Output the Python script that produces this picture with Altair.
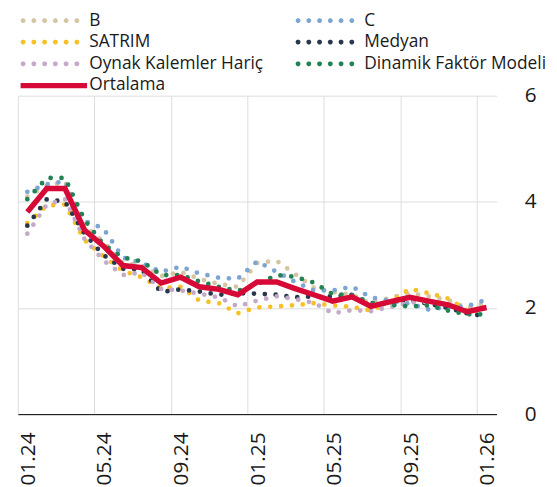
import math
import altair as alt
import pandas as pd

# ---------------- data ----------------
month_labels = ["2024-01", "2024-02", "2024-03", "2024-04", "2024-05", "2024-06",
                "2024-07", "2024-08", "2024-09", "2024-10", "2024-11", "2024-12",
                "2025-01", "2025-02", "2025-03", "2025-04", "2025-05", "2025-06",
                "2025-07", "2025-08", "2025-09", "2025-10", "2025-11", "2025-12",
                "2026-01"]

series_names = ["B", "C", "SATRIM", "Medyan", "Oynak Kalemler Hariç",
                "Dinamik Faktör Modeli", "Ortalama"]
series_colors = ["#d5c5a0", "#7da5d2", "#f6c128", "#28374b", "#c4aac8",
                 "#238255", "#d70a37"]

b_vals = [4.10, 4.30, 4.38, 3.55, 3.25, 2.85, 2.80, 2.60, 2.68, 2.55, 2.45, 2.40,
          2.85, 2.89, 2.65, 2.38, 2.30, 2.25, 2.08, 2.20, 2.28, 2.22, 2.15, 2.00, 2.10]
c_vals = [4.19, 4.33, 4.39, 3.64, 3.50, 2.95, 2.85, 2.68, 2.78, 2.65, 2.57, 2.55,
          2.88, 2.68, 2.50, 2.33, 2.33, 2.40, 2.20, 2.13, 2.08, 1.97, 2.02, 2.03, 2.16]
satrim_vals = [3.60, 3.93, 3.95, 3.28, 2.98, 2.70, 2.58, 2.37, 2.40, 2.14, 2.09, 1.90,
               2.01, 2.03, 2.05, 2.09, 2.05, 2.02, 1.95, 2.12, 2.36, 2.28, 2.18, 1.95, 1.95]
medyan_vals = [3.55, 4.05, 4.00, 3.40, 3.00, 2.74, 2.72, 2.30, 2.35, 2.31, 2.25, 2.28,
               2.27, 2.25, 2.20, 2.22, 2.22, 2.25, 2.05, 2.10, 2.15, 2.08, 2.00, 1.90, 1.84]
oynak_vals = [3.40, 3.95, 4.05, 3.30, 2.90, 2.62, 2.67, 2.36, 2.33, 2.27, 2.20, 2.03,
              2.14, 2.22, 2.17, 2.10, 1.90, 1.96, 1.94, 2.02, 2.10, 2.12, 2.05, 1.95, 2.00]
dinamik_vals = [4.05, 4.45, 4.45, 3.66, 3.20, 2.95, 2.88, 2.62, 2.62, 2.50, 2.40, 2.32,
                2.45, 2.62, 2.59, 2.48, 2.26, 2.24, 2.10, 2.06, 2.03, 2.05, 1.95, 1.88, 1.88]
ortalama_vals = [3.81, 4.25, 4.25, 3.47, 3.17, 2.80, 2.76, 2.47, 2.58, 2.40, 2.35, 2.25,
                 2.49, 2.49, 2.37, 2.25, 2.13, 2.21, 2.03, 2.12, 2.20, 2.13, 2.06, 1.93, 2.01]

y_ticks = [0, 2, 4, 6]
x_tick_months = [(2024, 1), (2024, 5), (2024, 9), (2025, 1), (2025, 5), (2025, 9), (2026, 1)]

all_vals = [b_vals, c_vals, satrim_vals, medyan_vals, oynak_vals, dinamik_vals, ortalama_vals]

rows = []
for name, vals in zip(series_names, all_vals):
    for m, v in zip(month_labels, vals):
        rows.append({"date": m + "-16", "series": name, "value": v})
df = pd.DataFrame(rows)

# ---------------- legend symbols (custom paths) ----------------
def dots_path(n=6, start=-5.6, length=9.9, r=0.42, sides=10):
    step = (length - 2 * r) / (n - 1)
    parts = []
    for i in range(n):
        cx = start + r + i * step
        pts = []
        for k in range(sides):
            a = 2 * math.pi * k / sides
            pts.append(f"{cx + r * math.cos(a):.3f},{r * math.sin(a):.3f}")
        parts.append("M" + "L".join(pts) + "Z")
    return "".join(parts)

bar_path = "M-5.6,-0.45L5.6,-0.45L5.6,0.45L-5.6,0.45Z"
shape_range = [dots_path()] * 6 + [bar_path]

FONT = "Open Sans"

color_scale = alt.Scale(domain=series_names, range=series_colors)
shape_scale = alt.Scale(domain=series_names, range=shape_range)

legend = alt.Legend(
    title=None, orient="top", columns=2, symbolSize=144, symbolStrokeWidth=0,
    labelFont=FONT, labelFontSize=17.5, labelColor="#1a1a1a", rowPadding=3,
    columnPadding=29, symbolOffset=27.6, labelOffset=27, offset=1, padding=0,
    labelLimit=400,
)

x_enc = alt.X(
    "date:T",
    scale=alt.Scale(domain=[alt.DateTime(year=2024, month=1, date=1),
                            alt.DateTime(year=2026, month=2, date=1)]),
    axis=alt.Axis(
        title=None, values=[alt.DateTime(year=y, month=m, date=1) for y, m in x_tick_months],
        format="%m.%y", labelAngle=270, labelAlign="right", labelBaseline="top",
        labelPadding=18, ticks=False, tickSize=0, labelFlush=False,
        domainColor="#000000", domainWidth=1, grid=True, gridColor="#dddddd",
        labelFont=FONT, labelFontSize=21, labelColor="#1a1a1a",
    ),
)
y_enc = alt.Y(
    "value:Q",
    scale=alt.Scale(domain=[0, 6]),
    axis=alt.Axis(
        title=None, orient="right", values=y_ticks, domain=False, ticks=False,
        tickSize=0, labelPadding=28, labelFlush=False, grid=True, gridColor="#dddddd",
        labelFont=FONT, labelFontSize=21, labelColor="#1a1a1a",
    ),
)

legend_layer = alt.Chart(df).transform_filter("false").mark_point(
    filled=True, opacity=1
).encode(
    x=x_enc, y=y_enc,
    color=alt.Color("series:N", scale=color_scale, legend=legend),
    shape=alt.Shape("series:N", scale=shape_scale, legend=legend),
)

dotted = alt.Chart(df).transform_filter(
    alt.datum.series != "Ortalama"
).mark_line(strokeDash=[0, 11], strokeCap="round", strokeWidth=4.8).encode(
    x=x_enc, y=y_enc,
    color=alt.Color("series:N", scale=color_scale, legend=None),
)

avg = alt.Chart(df).transform_filter(
    alt.datum.series == "Ortalama"
).mark_line(strokeWidth=5.5).encode(
    x=x_enc, y=y_enc,
    color=alt.Color("series:N", scale=color_scale, legend=None),
)

chart = alt.layer(legend_layer, dotted, avg).resolve_legend(
    color="independent", shape="independent"
).properties(
    width=484, height=322,
    padding={"left": 8, "top": 1, "right": 2, "bottom": 0},
).configure_view(strokeWidth=0)

chart.save("out.html", embed_options={"renderer": "svg", "actions": False})
